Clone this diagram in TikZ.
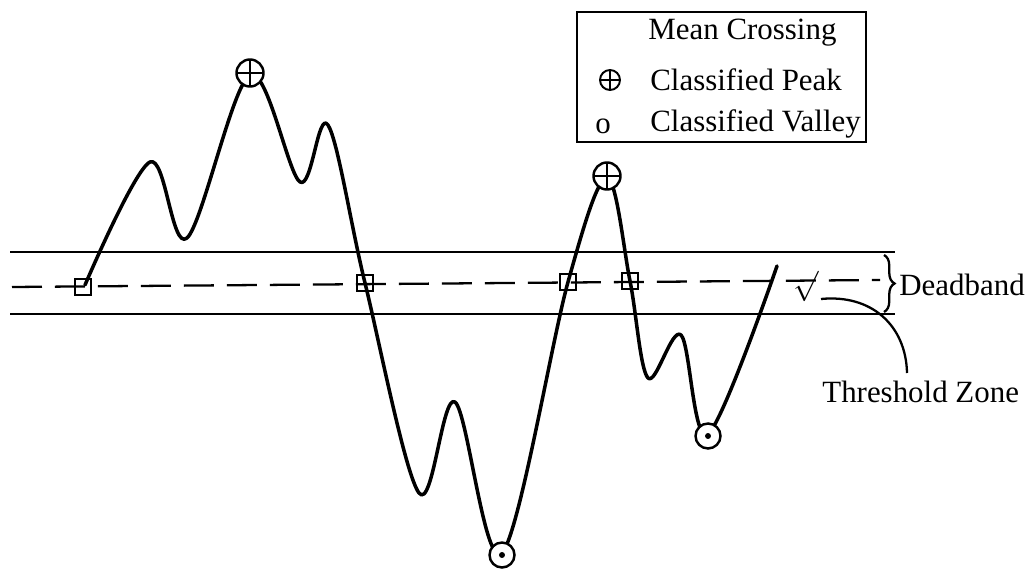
\documentclass[tikz,border=0pt]{standalone}
\usepackage{fontspec}
\setmainfont{Liberation Serif}
\usetikzlibrary{decorations.pathreplacing}
\begin{document}
\begin{tikzpicture}[x=0.02cm,y=-0.02cm,
  lbl/.style={font=\fontsize{17.6}{21}\selectfont, inner sep=0pt},
  sig/.style={line width=2pt, line join=round, line cap=round},
  band/.style={line width=1.3pt},
  xing/.style={draw, rectangle, line width=1.3pt, minimum size=0.33cm, inner sep=0pt},
  peakmark/.style={draw, circle, fill=white, line width=1.4pt, minimum size=0.54cm, inner sep=0pt,
    path picture={\draw[black, line width=1pt] (path picture bounding box.north) -- (path picture bounding box.south)
      (path picture bounding box.west) -- (path picture bounding box.east);}},
  valleymark/.style={draw, circle, fill=white, line width=1.4pt, minimum size=0.5cm, inner sep=0pt,
    path picture={\fill[black] (path picture bounding box.center) circle (1.7pt);}},
]
\useasboundingbox (0,0) rectangle (1030,570);

% deadband lines
\coordinate (ul) at (10,252); \coordinate (ur) at (895,252);
\coordinate (ll) at (10,314); \coordinate (lr) at (895,314);
\coordinate (ml) at (12,287); \coordinate (mr) at (880,280);
\draw[band] (ul) -- (ur);
\draw[band] (ll) -- (lr);
\draw[band, dash pattern=on 0.6cm off 0.26cm] (ml) -- (mr);

% curve points
\coordinate (p0) at (85,285);
\coordinate (p1) at (150,162);
\coordinate (p2) at (187,238);
\coordinate (p3) at (250,75);
\coordinate (p4) at (300,182);
\coordinate (p5) at (328,125);
\coordinate (p6) at (365,283);
\coordinate (p7) at (419,493);
\coordinate (p8) at (455,402);
\coordinate (p9) at (502,553);
\coordinate (p10) at (568,282);
\coordinate (p11) at (607,178);
\coordinate (p12) at (630,281);
\coordinate (p13) at (648,378);
\coordinate (p14) at (681,335);
\coordinate (p15) at (708,434);
\coordinate (p16) at (777,266);

\draw[sig] plot[smooth, tension=0.55] coordinates {(p0) (p1) (p2) (p3) (p4) (p5) (p6) (p7) (p8) (p9) (p10) (p11) (p12) (p13) (p14) (p15) (p16)};

% markers
\node[xing] (x1) at (83,287) {};
\node[xing] (x2) at (365,283) {};
\node[xing] (x3) at (568,282) {};
\node[xing] (x4) at (630,281) {};
\node[peakmark] (pk1) at (250,73) {};
\node[peakmark] (pk2) at (607,176) {};
\node[valleymark] (v1) at (502,555) {};
\node[valleymark] (v2) at (708,436) {};

% threshold zone
\node[lbl] (chk) at (806,286) {$\surd$};
\coordinate (tzs) at (821,299);
\node[lbl, anchor=west] (tz) at (822,392) {Threshold Zone};
\coordinate (tze) at (907,373);
\draw[line width=1.3pt] (tzs) .. controls (872,294) and (906,326) .. (tze);

% deadband brace
\coordinate (b1) at (884,255); \coordinate (b2) at (884,312);
\draw[line width=1.3pt, decorate, decoration={brace, amplitude=6pt}] (b1) -- (b2);
\node[lbl, anchor=west] (db) at (899,285) {Deadband};

% legend
\node[draw, rectangle, line width=1.3pt, minimum width=5.78cm, minimum height=2.6cm, inner sep=0pt] (legend) at (721.5,77) {};
\node[lbl, anchor=west] (lm) at (648,33) {Mean Crossing};
\node[lbl, anchor=west] (lp) at (650,80) {Classified Peak};
\node[lbl, anchor=west] (lv) at (650,124) {Classified Valley};
\node[peakmark, minimum size=0.4cm, line width=1.1pt] (lpk) at (610,80) {};
\node[lbl] (lvo) at (603,126) {o};
\end{tikzpicture}
\end{document}
